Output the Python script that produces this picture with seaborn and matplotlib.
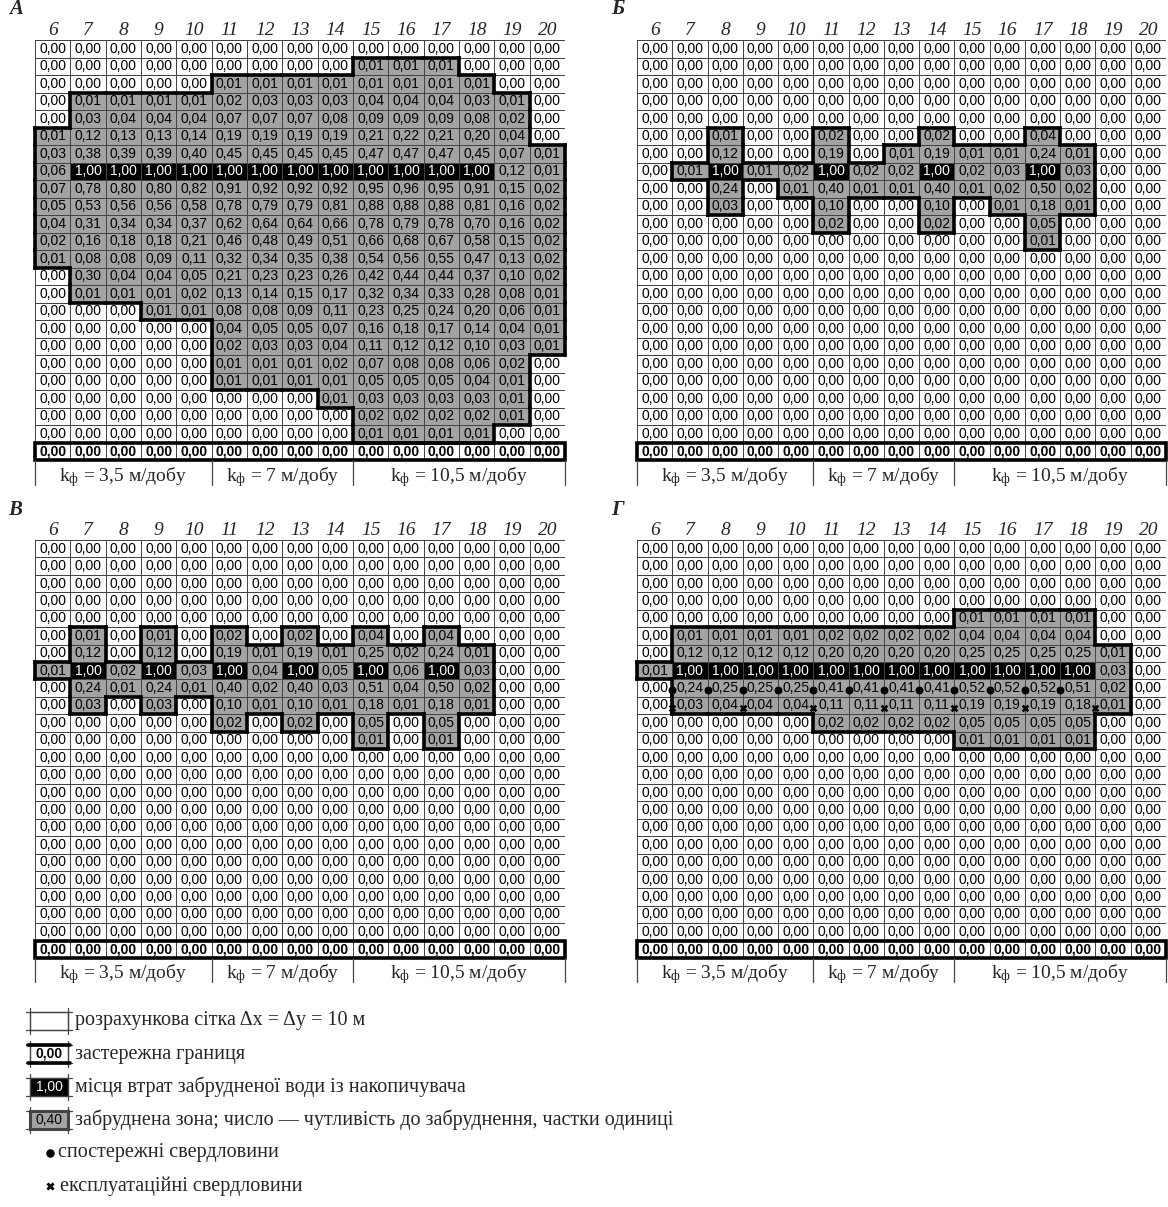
import numpy as np
import matplotlib
matplotlib.use("Agg")
import matplotlib.pyplot as plt
import seaborn as sns
from matplotlib.colors import ListedColormap
from matplotlib.patches import Rectangle

# column numbers of the calculation grid
columns = list(range(6, 21))

# zone labels under the grid: (first column, last column, text)
k_groups = [(6, 10, "3,5"), (11, 14, "7"), (15, 20, "10,5")]

panel_letters = ["А", "Б", "В", "Г"]

# А
panel_a = [
    [0.00, 0.00, 0.00, 0.00, 0.00, 0.00, 0.00, 0.00, 0.00, 0.00, 0.00, 0.00, 0.00, 0.00, 0.00],
    [0.00, 0.00, 0.00, 0.00, 0.00, 0.00, 0.00, 0.00, 0.00, 0.01, 0.01, 0.01, 0.00, 0.00, 0.00],
    [0.00, 0.00, 0.00, 0.00, 0.00, 0.01, 0.01, 0.01, 0.01, 0.01, 0.01, 0.01, 0.01, 0.00, 0.00],
    [0.00, 0.01, 0.01, 0.01, 0.01, 0.02, 0.03, 0.03, 0.03, 0.04, 0.04, 0.04, 0.03, 0.01, 0.00],
    [0.00, 0.03, 0.04, 0.04, 0.04, 0.07, 0.07, 0.07, 0.08, 0.09, 0.09, 0.09, 0.08, 0.02, 0.00],
    [0.01, 0.12, 0.13, 0.13, 0.14, 0.19, 0.19, 0.19, 0.19, 0.21, 0.22, 0.21, 0.20, 0.04, 0.00],
    [0.03, 0.38, 0.39, 0.39, 0.40, 0.45, 0.45, 0.45, 0.45, 0.47, 0.47, 0.47, 0.45, 0.07, 0.01],
    [0.06, 1.00, 1.00, 1.00, 1.00, 1.00, 1.00, 1.00, 1.00, 1.00, 1.00, 1.00, 1.00, 0.12, 0.01],
    [0.07, 0.78, 0.80, 0.80, 0.82, 0.91, 0.92, 0.92, 0.92, 0.95, 0.96, 0.95, 0.91, 0.15, 0.02],
    [0.05, 0.53, 0.56, 0.56, 0.58, 0.78, 0.79, 0.79, 0.81, 0.88, 0.88, 0.88, 0.81, 0.16, 0.02],
    [0.04, 0.31, 0.34, 0.34, 0.37, 0.62, 0.64, 0.64, 0.66, 0.78, 0.79, 0.78, 0.70, 0.16, 0.02],
    [0.02, 0.16, 0.18, 0.18, 0.21, 0.46, 0.48, 0.49, 0.51, 0.66, 0.68, 0.67, 0.58, 0.15, 0.02],
    [0.01, 0.08, 0.08, 0.09, 0.11, 0.32, 0.34, 0.35, 0.38, 0.54, 0.56, 0.55, 0.47, 0.13, 0.02],
    [0.00, 0.30, 0.04, 0.04, 0.05, 0.21, 0.23, 0.23, 0.26, 0.42, 0.44, 0.44, 0.37, 0.10, 0.02],
    [0.00, 0.01, 0.01, 0.01, 0.02, 0.13, 0.14, 0.15, 0.17, 0.32, 0.34, 0.33, 0.28, 0.08, 0.01],
    [0.00, 0.00, 0.00, 0.01, 0.01, 0.08, 0.08, 0.09, 0.11, 0.23, 0.25, 0.24, 0.20, 0.06, 0.01],
    [0.00, 0.00, 0.00, 0.00, 0.00, 0.04, 0.05, 0.05, 0.07, 0.16, 0.18, 0.17, 0.14, 0.04, 0.01],
    [0.00, 0.00, 0.00, 0.00, 0.00, 0.02, 0.03, 0.03, 0.04, 0.11, 0.12, 0.12, 0.10, 0.03, 0.01],
    [0.00, 0.00, 0.00, 0.00, 0.00, 0.01, 0.01, 0.01, 0.02, 0.07, 0.08, 0.08, 0.06, 0.02, 0.00],
    [0.00, 0.00, 0.00, 0.00, 0.00, 0.01, 0.01, 0.01, 0.01, 0.05, 0.05, 0.05, 0.04, 0.01, 0.00],
    [0.00, 0.00, 0.00, 0.00, 0.00, 0.00, 0.00, 0.00, 0.01, 0.03, 0.03, 0.03, 0.03, 0.01, 0.00],
    [0.00, 0.00, 0.00, 0.00, 0.00, 0.00, 0.00, 0.00, 0.00, 0.02, 0.02, 0.02, 0.02, 0.01, 0.00],
    [0.00, 0.00, 0.00, 0.00, 0.00, 0.00, 0.00, 0.00, 0.00, 0.01, 0.01, 0.01, 0.01, 0.00, 0.00],
    [0.00, 0.00, 0.00, 0.00, 0.00, 0.00, 0.00, 0.00, 0.00, 0.00, 0.00, 0.00, 0.00, 0.00, 0.00],
]

# Б
panel_b = [
    [0.00, 0.00, 0.00, 0.00, 0.00, 0.00, 0.00, 0.00, 0.00, 0.00, 0.00, 0.00, 0.00, 0.00, 0.00],
    [0.00, 0.00, 0.00, 0.00, 0.00, 0.00, 0.00, 0.00, 0.00, 0.00, 0.00, 0.00, 0.00, 0.00, 0.00],
    [0.00, 0.00, 0.00, 0.00, 0.00, 0.00, 0.00, 0.00, 0.00, 0.00, 0.00, 0.00, 0.00, 0.00, 0.00],
    [0.00, 0.00, 0.00, 0.00, 0.00, 0.00, 0.00, 0.00, 0.00, 0.00, 0.00, 0.00, 0.00, 0.00, 0.00],
    [0.00, 0.00, 0.00, 0.00, 0.00, 0.00, 0.00, 0.00, 0.00, 0.00, 0.00, 0.00, 0.00, 0.00, 0.00],
    [0.00, 0.00, 0.01, 0.00, 0.00, 0.02, 0.00, 0.00, 0.02, 0.00, 0.00, 0.04, 0.00, 0.00, 0.00],
    [0.00, 0.00, 0.12, 0.00, 0.00, 0.19, 0.00, 0.01, 0.19, 0.01, 0.01, 0.24, 0.01, 0.00, 0.00],
    [0.00, 0.01, 1.00, 0.01, 0.02, 1.00, 0.02, 0.02, 1.00, 0.02, 0.03, 1.00, 0.03, 0.00, 0.00],
    [0.00, 0.00, 0.24, 0.00, 0.01, 0.40, 0.01, 0.01, 0.40, 0.01, 0.02, 0.50, 0.02, 0.00, 0.00],
    [0.00, 0.00, 0.03, 0.00, 0.00, 0.10, 0.00, 0.00, 0.10, 0.00, 0.01, 0.18, 0.01, 0.00, 0.00],
    [0.00, 0.00, 0.00, 0.00, 0.00, 0.02, 0.00, 0.00, 0.02, 0.00, 0.00, 0.05, 0.00, 0.00, 0.00],
    [0.00, 0.00, 0.00, 0.00, 0.00, 0.00, 0.00, 0.00, 0.00, 0.00, 0.00, 0.01, 0.00, 0.00, 0.00],
    [0.00, 0.00, 0.00, 0.00, 0.00, 0.00, 0.00, 0.00, 0.00, 0.00, 0.00, 0.00, 0.00, 0.00, 0.00],
    [0.00, 0.00, 0.00, 0.00, 0.00, 0.00, 0.00, 0.00, 0.00, 0.00, 0.00, 0.00, 0.00, 0.00, 0.00],
    [0.00, 0.00, 0.00, 0.00, 0.00, 0.00, 0.00, 0.00, 0.00, 0.00, 0.00, 0.00, 0.00, 0.00, 0.00],
    [0.00, 0.00, 0.00, 0.00, 0.00, 0.00, 0.00, 0.00, 0.00, 0.00, 0.00, 0.00, 0.00, 0.00, 0.00],
    [0.00, 0.00, 0.00, 0.00, 0.00, 0.00, 0.00, 0.00, 0.00, 0.00, 0.00, 0.00, 0.00, 0.00, 0.00],
    [0.00, 0.00, 0.00, 0.00, 0.00, 0.00, 0.00, 0.00, 0.00, 0.00, 0.00, 0.00, 0.00, 0.00, 0.00],
    [0.00, 0.00, 0.00, 0.00, 0.00, 0.00, 0.00, 0.00, 0.00, 0.00, 0.00, 0.00, 0.00, 0.00, 0.00],
    [0.00, 0.00, 0.00, 0.00, 0.00, 0.00, 0.00, 0.00, 0.00, 0.00, 0.00, 0.00, 0.00, 0.00, 0.00],
    [0.00, 0.00, 0.00, 0.00, 0.00, 0.00, 0.00, 0.00, 0.00, 0.00, 0.00, 0.00, 0.00, 0.00, 0.00],
    [0.00, 0.00, 0.00, 0.00, 0.00, 0.00, 0.00, 0.00, 0.00, 0.00, 0.00, 0.00, 0.00, 0.00, 0.00],
    [0.00, 0.00, 0.00, 0.00, 0.00, 0.00, 0.00, 0.00, 0.00, 0.00, 0.00, 0.00, 0.00, 0.00, 0.00],
    [0.00, 0.00, 0.00, 0.00, 0.00, 0.00, 0.00, 0.00, 0.00, 0.00, 0.00, 0.00, 0.00, 0.00, 0.00],
]

# В
panel_c = [
    [0.00, 0.00, 0.00, 0.00, 0.00, 0.00, 0.00, 0.00, 0.00, 0.00, 0.00, 0.00, 0.00, 0.00, 0.00],
    [0.00, 0.00, 0.00, 0.00, 0.00, 0.00, 0.00, 0.00, 0.00, 0.00, 0.00, 0.00, 0.00, 0.00, 0.00],
    [0.00, 0.00, 0.00, 0.00, 0.00, 0.00, 0.00, 0.00, 0.00, 0.00, 0.00, 0.00, 0.00, 0.00, 0.00],
    [0.00, 0.00, 0.00, 0.00, 0.00, 0.00, 0.00, 0.00, 0.00, 0.00, 0.00, 0.00, 0.00, 0.00, 0.00],
    [0.00, 0.00, 0.00, 0.00, 0.00, 0.00, 0.00, 0.00, 0.00, 0.00, 0.00, 0.00, 0.00, 0.00, 0.00],
    [0.00, 0.01, 0.00, 0.01, 0.00, 0.02, 0.00, 0.02, 0.00, 0.04, 0.00, 0.04, 0.00, 0.00, 0.00],
    [0.00, 0.12, 0.00, 0.12, 0.00, 0.19, 0.01, 0.19, 0.01, 0.25, 0.02, 0.24, 0.01, 0.00, 0.00],
    [0.01, 1.00, 0.02, 1.00, 0.03, 1.00, 0.04, 1.00, 0.05, 1.00, 0.06, 1.00, 0.03, 0.00, 0.00],
    [0.00, 0.24, 0.01, 0.24, 0.01, 0.40, 0.02, 0.40, 0.03, 0.51, 0.04, 0.50, 0.02, 0.00, 0.00],
    [0.00, 0.03, 0.00, 0.03, 0.00, 0.10, 0.01, 0.10, 0.01, 0.18, 0.01, 0.18, 0.01, 0.00, 0.00],
    [0.00, 0.00, 0.00, 0.00, 0.00, 0.02, 0.00, 0.02, 0.00, 0.05, 0.00, 0.05, 0.00, 0.00, 0.00],
    [0.00, 0.00, 0.00, 0.00, 0.00, 0.00, 0.00, 0.00, 0.00, 0.01, 0.00, 0.01, 0.00, 0.00, 0.00],
    [0.00, 0.00, 0.00, 0.00, 0.00, 0.00, 0.00, 0.00, 0.00, 0.00, 0.00, 0.00, 0.00, 0.00, 0.00],
    [0.00, 0.00, 0.00, 0.00, 0.00, 0.00, 0.00, 0.00, 0.00, 0.00, 0.00, 0.00, 0.00, 0.00, 0.00],
    [0.00, 0.00, 0.00, 0.00, 0.00, 0.00, 0.00, 0.00, 0.00, 0.00, 0.00, 0.00, 0.00, 0.00, 0.00],
    [0.00, 0.00, 0.00, 0.00, 0.00, 0.00, 0.00, 0.00, 0.00, 0.00, 0.00, 0.00, 0.00, 0.00, 0.00],
    [0.00, 0.00, 0.00, 0.00, 0.00, 0.00, 0.00, 0.00, 0.00, 0.00, 0.00, 0.00, 0.00, 0.00, 0.00],
    [0.00, 0.00, 0.00, 0.00, 0.00, 0.00, 0.00, 0.00, 0.00, 0.00, 0.00, 0.00, 0.00, 0.00, 0.00],
    [0.00, 0.00, 0.00, 0.00, 0.00, 0.00, 0.00, 0.00, 0.00, 0.00, 0.00, 0.00, 0.00, 0.00, 0.00],
    [0.00, 0.00, 0.00, 0.00, 0.00, 0.00, 0.00, 0.00, 0.00, 0.00, 0.00, 0.00, 0.00, 0.00, 0.00],
    [0.00, 0.00, 0.00, 0.00, 0.00, 0.00, 0.00, 0.00, 0.00, 0.00, 0.00, 0.00, 0.00, 0.00, 0.00],
    [0.00, 0.00, 0.00, 0.00, 0.00, 0.00, 0.00, 0.00, 0.00, 0.00, 0.00, 0.00, 0.00, 0.00, 0.00],
    [0.00, 0.00, 0.00, 0.00, 0.00, 0.00, 0.00, 0.00, 0.00, 0.00, 0.00, 0.00, 0.00, 0.00, 0.00],
    [0.00, 0.00, 0.00, 0.00, 0.00, 0.00, 0.00, 0.00, 0.00, 0.00, 0.00, 0.00, 0.00, 0.00, 0.00],
]

# Г
panel_d = [
    [0.00, 0.00, 0.00, 0.00, 0.00, 0.00, 0.00, 0.00, 0.00, 0.00, 0.00, 0.00, 0.00, 0.00, 0.00],
    [0.00, 0.00, 0.00, 0.00, 0.00, 0.00, 0.00, 0.00, 0.00, 0.00, 0.00, 0.00, 0.00, 0.00, 0.00],
    [0.00, 0.00, 0.00, 0.00, 0.00, 0.00, 0.00, 0.00, 0.00, 0.00, 0.00, 0.00, 0.00, 0.00, 0.00],
    [0.00, 0.00, 0.00, 0.00, 0.00, 0.00, 0.00, 0.00, 0.00, 0.00, 0.00, 0.00, 0.00, 0.00, 0.00],
    [0.00, 0.00, 0.00, 0.00, 0.00, 0.00, 0.00, 0.00, 0.00, 0.01, 0.01, 0.01, 0.01, 0.00, 0.00],
    [0.00, 0.01, 0.01, 0.01, 0.01, 0.02, 0.02, 0.02, 0.02, 0.04, 0.04, 0.04, 0.04, 0.00, 0.00],
    [0.00, 0.12, 0.12, 0.12, 0.12, 0.20, 0.20, 0.20, 0.20, 0.25, 0.25, 0.25, 0.25, 0.01, 0.00],
    [0.01, 1.00, 1.00, 1.00, 1.00, 1.00, 1.00, 1.00, 1.00, 1.00, 1.00, 1.00, 1.00, 0.03, 0.00],
    [0.00, 0.24, 0.25, 0.25, 0.25, 0.41, 0.41, 0.41, 0.41, 0.52, 0.52, 0.52, 0.51, 0.02, 0.00],
    [0.00, 0.03, 0.04, 0.04, 0.04, 0.11, 0.11, 0.11, 0.11, 0.19, 0.19, 0.19, 0.18, 0.01, 0.00],
    [0.00, 0.00, 0.00, 0.00, 0.00, 0.02, 0.02, 0.02, 0.02, 0.05, 0.05, 0.05, 0.05, 0.00, 0.00],
    [0.00, 0.00, 0.00, 0.00, 0.00, 0.00, 0.00, 0.00, 0.00, 0.01, 0.01, 0.01, 0.01, 0.00, 0.00],
    [0.00, 0.00, 0.00, 0.00, 0.00, 0.00, 0.00, 0.00, 0.00, 0.00, 0.00, 0.00, 0.00, 0.00, 0.00],
    [0.00, 0.00, 0.00, 0.00, 0.00, 0.00, 0.00, 0.00, 0.00, 0.00, 0.00, 0.00, 0.00, 0.00, 0.00],
    [0.00, 0.00, 0.00, 0.00, 0.00, 0.00, 0.00, 0.00, 0.00, 0.00, 0.00, 0.00, 0.00, 0.00, 0.00],
    [0.00, 0.00, 0.00, 0.00, 0.00, 0.00, 0.00, 0.00, 0.00, 0.00, 0.00, 0.00, 0.00, 0.00, 0.00],
    [0.00, 0.00, 0.00, 0.00, 0.00, 0.00, 0.00, 0.00, 0.00, 0.00, 0.00, 0.00, 0.00, 0.00, 0.00],
    [0.00, 0.00, 0.00, 0.00, 0.00, 0.00, 0.00, 0.00, 0.00, 0.00, 0.00, 0.00, 0.00, 0.00, 0.00],
    [0.00, 0.00, 0.00, 0.00, 0.00, 0.00, 0.00, 0.00, 0.00, 0.00, 0.00, 0.00, 0.00, 0.00, 0.00],
    [0.00, 0.00, 0.00, 0.00, 0.00, 0.00, 0.00, 0.00, 0.00, 0.00, 0.00, 0.00, 0.00, 0.00, 0.00],
    [0.00, 0.00, 0.00, 0.00, 0.00, 0.00, 0.00, 0.00, 0.00, 0.00, 0.00, 0.00, 0.00, 0.00, 0.00],
    [0.00, 0.00, 0.00, 0.00, 0.00, 0.00, 0.00, 0.00, 0.00, 0.00, 0.00, 0.00, 0.00, 0.00, 0.00],
    [0.00, 0.00, 0.00, 0.00, 0.00, 0.00, 0.00, 0.00, 0.00, 0.00, 0.00, 0.00, 0.00, 0.00, 0.00],
    [0.00, 0.00, 0.00, 0.00, 0.00, 0.00, 0.00, 0.00, 0.00, 0.00, 0.00, 0.00, 0.00, 0.00, 0.00],
]

# wells in panel Г: (row number, list of column numbers)
obs_wells = (9, [7, 8, 9, 10, 11, 12, 13, 14, 15, 16, 17, 18])
prod_wells = (10, [7, 9, 11, 13, 15, 17, 19])

legend_items = [
    "розрахункова сітка Δx = Δy = 10 м",
    "застережна границя",
    "місця втрат забрудненої води із накопичувача",
    "забруднена зона; число — чутливість до забруднення, частки одиниці",
    "спостережні свердловини",
    "експлуатаційні свердловини",
]

GRAY = "#a3a3a3"
GRID = "#444444"
SERIF = ["Liberation Serif", "DejaVu Serif"]
SANS = ["Liberation Sans", "DejaVu Sans"]

sns.set_style("white")
plt.rcParams["font.family"] = SERIF
plt.rcParams["mathtext.fontset"] = "custom"
plt.rcParams["mathtext.rm"] = "Liberation Serif"
plt.rcParams["mathtext.it"] = "Liberation Serif:italic"


def fmt(v):
    return f"{v:.2f}".replace(".", ",")


def draw_panel(ax, data, letter, wells=False):
    vals = np.array(data)
    cats = np.where(vals >= 1, 2, np.where(vals > 0, 1, 0))
    labels = np.vectorize(fmt)(vals)
    nrow, ncol = vals.shape

    sns.heatmap(cats, ax=ax, cmap=ListedColormap(["white", GRAY, "black"]), vmin=0, vmax=2,
                annot=labels, fmt="", cbar=False, linewidths=0.7, linecolor=GRID,
                xticklabels=columns, yticklabels=False,
                annot_kws={"fontsize": 10, "family": SANS})

    # text colour / bold last row
    for i, t in enumerate(ax.texts):
        r, c = divmod(i, ncol)
        t.set_color("white" if cats[r, c] == 2 else "black")
        if r == nrow - 1:
            t.set_fontweight("bold")

    ax.xaxis.tick_top()
    ax.tick_params(axis="x", length=0, pad=1)
    for lab in ax.get_xticklabels():
        lab.set_rotation(0)
        lab.set_fontstyle("italic")
        lab.set_fontsize(14)
        lab.set_family(SERIF)

    # contour of the contaminated zone
    zone = cats > 0
    kw = dict(color="black", lw=2.6, solid_capstyle="projecting", clip_on=False)
    for r in range(nrow):
        for c in range(ncol):
            if not zone[r, c]:
                continue
            if r == 0 or not zone[r - 1, c]:
                ax.plot([c, c + 1], [r, r], **kw)
            if r == nrow - 1 or not zone[r + 1, c]:
                ax.plot([c, c + 1], [r + 1, r + 1], **kw)
            if c == 0 or not zone[r, c - 1]:
                ax.plot([c, c], [r, r + 1], **kw)
            if c == ncol - 1 or not zone[r, c + 1]:
                ax.plot([c + 1, c + 1], [r, r + 1], **kw)

    # warning boundary (last row)
    ax.add_patch(Rectangle((0, nrow - 1), ncol, 1, fill=False, lw=2.6, ec="black", clip_on=False))

    # filtration coefficient groups under the grid
    for first, last, k in k_groups:
        x0 = columns.index(first)
        x1 = columns.index(last) + 1
        ax.text((x0 + x1) / 2, nrow + 0.95, r"k$_{\mathrm{ф}}$ = " + k + " м/добу",
                ha="center", va="center", fontsize=14, family=SERIF)
        ax.plot([x0, x0], [nrow, nrow + 1.4], color=GRID, lw=0.9, clip_on=False)
    ax.plot([ncol, ncol], [nrow, nrow + 1.4], color=GRID, lw=0.9, clip_on=False)

    ax.text(-0.55, -1.75, letter, ha="center", va="center", fontsize=15,
            fontweight="bold", fontstyle="italic", family=SERIF)

    if wells:
        r, cols_ = obs_wells
        xs = [columns.index(c) for c in cols_]
        ax.scatter(xs, [r - 1 + 0.62] * len(xs), s=22, color="black", zorder=5, clip_on=False)
        r, cols_ = prod_wells
        xs = [columns.index(c) for c in cols_]
        ax.scatter(xs, [r - 1 + 0.62] * len(xs), s=30, marker="X", color="black",
                   linewidths=0, zorder=5, clip_on=False)


fig = plt.figure(figsize=(11.68, 12.07), dpi=100)
W, H = 1168.0, 1207.0


def px_axes(x0, y0, x1, y1):
    return fig.add_axes([x0 / W, 1 - y1 / H, (x1 - x0) / W, (y1 - y0) / H])


ax_a = px_axes(35, 40, 565, 460)
ax_b = px_axes(637, 40, 1166, 460)
ax_c = px_axes(35, 540, 565, 958)
ax_d = px_axes(637, 540, 1166, 958)

draw_panel(ax_a, panel_a, panel_letters[0])
draw_panel(ax_b, panel_b, panel_letters[1])
draw_panel(ax_c, panel_c, panel_letters[2])
draw_panel(ax_d, panel_d, panel_letters[3], wells=True)

# legend drawn in pixel coordinates
leg = fig.add_axes([0, 0, 1, 1])
leg.set_xlim(0, W)
leg.set_ylim(H, 0)
leg.axis("off")

x0, x1 = 30, 68
ys = [1021, 1054, 1087, 1120, 1153, 1186]
fills = ["white", "white", "black", GRAY]
icon_txt = ["", "0,00", "1,00", "0,40"]
for i in range(4):
    yc = ys[i]
    leg.add_patch(Rectangle((x0, yc - 9), x1 - x0, 18, fc=fills[i], ec=GRID,
                            lw=2.2 if i == 3 else 0.9))
    leg.plot([x0 - 4, x1 + 4], [yc - 9, yc - 9], color=GRID, lw=0.9)
    leg.plot([x0 - 4, x1 + 4], [yc + 9, yc + 9], color=GRID, lw=0.9)
    leg.plot([x0, x0], [yc - 13, yc + 13], color=GRID, lw=0.9)
    leg.plot([x1, x1], [yc - 13, yc + 13], color=GRID, lw=0.9)
    if i == 1:
        leg.plot([x0 - 2, x1 + 2], [yc - 9, yc - 9], color="black", lw=2.6)
        leg.plot([x0 - 2, x1 + 2], [yc + 9, yc + 9], color="black", lw=2.6)
    if icon_txt[i]:
        leg.text((x0 + x1) / 2, yc, icon_txt[i], ha="center", va="center", fontsize=10,
                 family=SANS, color="white" if i == 2 else "black",
                 fontweight="bold" if i == 1 else "normal")
    leg.text(x1 + 7, yc, legend_items[i], ha="left", va="center", fontsize=14.5, family=SERIF)

leg.scatter([50], [ys[4]], s=26, color="black")
leg.text(58, ys[4], legend_items[4], ha="left", va="center", fontsize=14.5, family=SERIF)
leg.scatter([50], [ys[5]], s=34, marker="X", color="black", linewidths=0)
leg.text(60, ys[5], legend_items[5], ha="left", va="center", fontsize=14.5, family=SERIF)

fig.savefig("out.png", dpi=100, facecolor="white")
